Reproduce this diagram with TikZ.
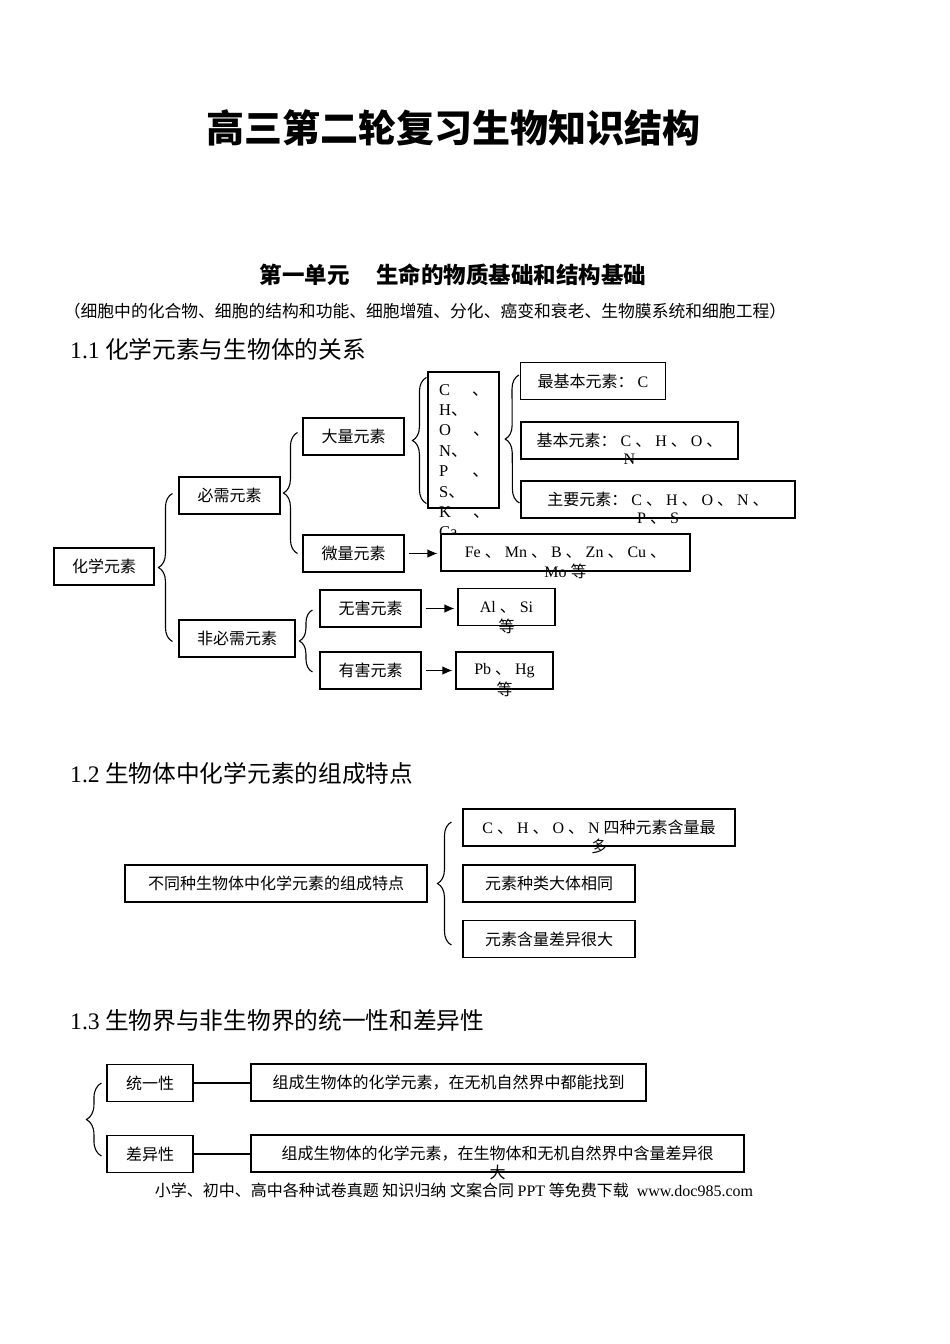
\documentclass[tikz,border=0pt]{standalone}
\usepackage{fontspec}
\setmainfont{Liberation Serif}
\newfontfamily\zhfont{Noto Sans CJK SC}
\usetikzlibrary{positioning,decorations.pathreplacing,arrows.meta,calc}

\newcommand{\lt}[1]{{\rmfamily #1}}

\tikzset{
  box/.style = {draw, line width=1.1pt, fill=white, inner sep=0pt, minimum height=37pt,
                font=\zhfont\fontsize{16}{20}\selectfont},
  tail/.style = {inner sep=0pt, font=\zhfont\fontsize{16}{20}\selectfont},
  head/.style = {anchor=west, inner sep=0pt, font=\zhfont\fontsize{23.7}{28}\selectfont},
  brc/.style = {decorate, decoration={brace, amplitude=14pt}, line width=1.1pt},
  arr/.style = {-{Latex[length=10pt,width=8.5pt]}, line width=1.1pt, shorten <=4pt, shorten >=3pt},
}

\begin{document}
\begin{tikzpicture}[x=1pt, y=-1pt]
    \useasboundingbox (0,0) rectangle (950,1344);

    % titles
    \node[font=\zhfont\bfseries\fontsize{38}{46}\selectfont] (title) at (453,128) {高三第二轮复习生物知识结构};
    \node[font=\zhfont\bfseries\fontsize{22.5}{26}\selectfont] (unit) at (453,275) {第一单元\hspace{1.2em}生命的物质基础和结构基础};
    \node[font=\zhfont\fontsize{16.8}{20}\selectfont] (range) at (425,311) {（细胞中的化合物、细胞的结构和功能、细胞增殖、分化、癌变和衰老、生物膜系统和细胞工程）};

    % 1.1
    \node[head] (h1) at (70,349) {\lt{1.1} 化学元素与生物体的关系};

    \node[box, minimum width=100pt] (huaxue) at (104,566.5) {化学元素};
    \node[box, minimum width=101pt] (bixu) at (229.5,495.5) {必需元素};
    \node[box, minimum width=116pt] (feibixu) at (237,638.5) {非必需元素};
    \node[box, minimum width=101pt] (daliang) at (353.5,436.5) {大量元素};
    \node[box, minimum width=101pt] (weiliang) at (353.5,553.5) {微量元素};

    \node[box, minimum width=71pt, minimum height=136pt, fill=none] (elem) at (463.5,440) {};
    \node[tail, anchor=north west, align=left, font=\zhfont\fontsize{16.5}{20.4}\selectfont] (elemtxt) at (439,384)
        {\lt{C}\hspace{22pt}、\\ \lt{H}、\\ \lt{O}\hspace{22pt}、\\ \lt{N}、\\ \lt{P}\hspace{24pt}、\\ \lt{S}、\\ \lt{K}\hspace{22pt}、\\ \lt{Ca}};

    \node[box, minimum width=145pt] (zuijiben) at (593,381) {最基本元素：\lt{ C}};
    \node[box, minimum width=217pt] (jiben) at (629.5,440.5) {基本元素：\lt{ C }、\lt{ H }、\lt{ O }、};
    \node[tail] (jibenN) at (jiben.south) {\lt{N}};
    \node[box, minimum width=274pt] (zhuyao) at (658,499.5) {主要元素：\lt{ C }、\lt{ H }、\lt{ O }、\lt{ N }、};
    \node[tail] (zhuyaoPS) at (zhuyao.south) {\lt{P }、\lt{ S}};

    \node[box, minimum width=249pt] (fe) at (565.5,552.5) {\lt{Fe }、\lt{ Mn }、\lt{ B }、\lt{ Zn }、\lt{ Cu }、};
    \node[tail] (feMo) at (fe.south) {\lt{Mo }等};

    \node[box, minimum width=101pt] (wuhai) at (370.5,608.5) {无害元素};
    \node[box, minimum width=101pt] (youhai) at (370.5,670.5) {有害元素};
    \node[box, minimum width=97pt] (alsi) at (506.5,607) {\lt{Al }、\lt{ Si}};
    \node[tail] (alsiDeng) at (alsi.south) {等};
    \node[box, minimum width=97pt] (pbhg) at (504.5,670.5) {\lt{Pb }、\lt{ Hg}};
    \node[tail] (pbhgDeng) at (pbhg.south) {等};

    \draw[brc] ([xshift=-6pt,yshift=-3pt]feibixu.west) -- ([xshift=-6pt,yshift=2pt]bixu.west);
    \draw[brc] ([xshift=-5pt]weiliang.west) -- ([xshift=-5pt,yshift=4pt]daliang.west);
    \draw[brc] ([xshift=-1pt,yshift=5pt]elem.south west) -- ([xshift=-1pt,yshift=-6pt]elem.north west);
    \draw[brc] ([xshift=-1pt,yshift=-3.5pt]zhuyao.west) -- ([xshift=-1pt,yshift=6pt]zuijiben.west);
    \draw[brc, decoration={amplitude=13pt}] ([xshift=-7pt,yshift=-1.5pt]youhai.west) -- ([xshift=-7pt,yshift=-1.5pt]wuhai.west);

    \draw[arr] (weiliang.east) -- (weiliang.east -| fe.west);
    \draw[arr] (wuhai.east) -- (wuhai.east -| alsi.west);
    \draw[arr] (youhai.east) -- (youhai.east -| pbhg.west);

    % 1.2
    \node[head] (h2) at (70,773) {\lt{1.2} 生物体中化学元素的组成特点};

    \node[box, minimum width=302pt] (tezheng) at (276,883.5) {不同种生物体中化学元素的组成特点};
    \node[box, minimum width=272pt] (cA) at (599,827.5) {\lt{C }、\lt{ H }、\lt{ O }、\lt{ N }四种元素含量最};
    \node[tail] (cAduo) at (cA.south) {多};
    \node[box, minimum width=172pt] (cB) at (549,883.5) {元素种类大体相同};
    \node[box, minimum width=172pt] (cC) at (549,939) {元素含量差异很大};

    \draw[brc] ([xshift=-11pt,yshift=-6pt]cC.west) -- ([xshift=-11pt,yshift=5.5pt]cA.west);

    % 1.3
    \node[head] (h3) at (70,1021) {\lt{1.3} 生物界与非生物界的统一性和差异性};

    \node[box, minimum width=86pt] (tongyi) at (150,1083) {统一性};
    \node[box, minimum width=395pt] (tongyiTxt) at (448.5,1082.5) {组成生物体的化学元素，在无机自然界中都能找到};
    \node[box, minimum width=86pt] (chayi) at (150,1154) {差异性};
    \node[box, minimum width=493pt] (chayiTxt) at (497.5,1153.5) {组成生物体的化学元素，在生物体和无机自然界中含量差异很};
    \node[tail] (chayiDa) at (chayiTxt.south) {大};

    \draw[brc, decoration={amplitude=15pt}] ([xshift=-5pt,yshift=-2pt]chayi.west) -- ([xshift=-5pt]tongyi.west);
    \draw[line width=1.1pt] (tongyi.east) -- (tongyi.east -| tongyiTxt.west);
    \draw[line width=1.1pt] (chayi.east) -- (chayi.east -| chayiTxt.west);

    % footer
    \node[font=\zhfont\fontsize{16}{20}\selectfont] (foot) at (454,1190) {小学、初中、高中各种试卷真题 知识归纳 文案合同 \lt{PPT} 等免费下载\lt{\ \ www.doc985.com}};

\end{tikzpicture}
\end{document}
